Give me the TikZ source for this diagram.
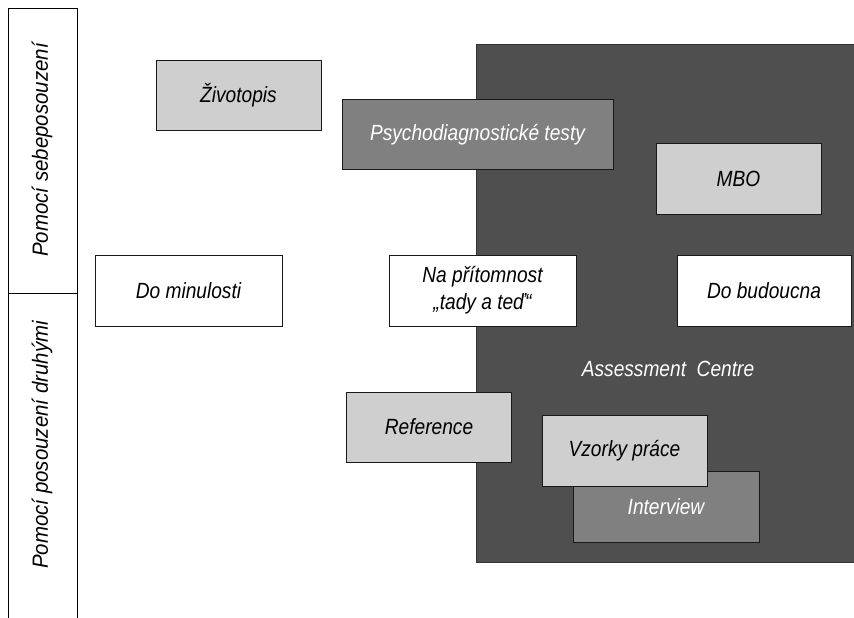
\documentclass[tikz,border=0pt]{standalone}
\usepackage{fontspec}
\setmainfont{Liberation Sans}
\newfontfamily\boxfont[FakeStretch=0.87]{Liberation Sans}
\newfontfamily\sidefont[FakeStretch=0.93]{Liberation Sans}
\definecolor{darkbg}{HTML}{4F4F4F}
\definecolor{midgray}{HTML}{808080}
\definecolor{lightgray}{HTML}{CFCFCF}
\begin{document}
\begin{tikzpicture}[x=1pt,y=-1pt,
  box/.style={draw=black!90, line width=0.9pt, rectangle, inner sep=0pt, font=\boxfont\fontsize{22}{28}\selectfont\itshape},
  lightbox/.style={box, fill=lightgray, text=black},
  midbox/.style={box, fill=midgray, text=white},
  whitebox/.style={box, fill=white, text=black},
  sidelabel/.style={rotate=90, font=\sidefont\fontsize{22}{28}\selectfont\itshape}
]
\useasboundingbox (0,0) rectangle (854,618);
% dark area
\fill[darkbg, draw=black!80, line width=0.9pt] (476,44) rectangle (856,562);
% left column
\draw[line width=0.9pt] (8,620) -- (8,8) -- (77,8) -- (77,620);
\draw[line width=0.9pt] (8,293) -- (77,293);
\node[sidelabel] (s1) at (42,150) {Pomocí sebeposouzení};
\node[sidelabel] (s2) at (42,445) {Pomocí posouzení druhými};
% boxes
\node[lightbox, minimum width=165, minimum height=70] (ziv) at (238.5,95) {Životopis};
\node[midbox, minimum width=271, minimum height=70] (psy) at (477.5,134.5) {Psychodiagnostické testy};
\node[lightbox, minimum width=165, minimum height=71] (mbo) at (738.5,178.5) {MBO};
\node[whitebox, minimum width=187, minimum height=71] (min) at (188.5,290.5) {Do minulosti};
\node[whitebox, minimum width=187, minimum height=71, align=center] (pri) at (482.5,290.5) {Na přítomnost\\[-1pt]„tady a teď“};
\node[whitebox, minimum width=174, minimum height=71] (bud) at (764,290.5) {Do budoucna};
\node[font=\boxfont\fontsize{22}{28}\selectfont\itshape, text=white] (ac) at (668,369) {Assessment~ Centre};
\node[lightbox, minimum width=165, minimum height=70] (ref) at (429,427) {Reference};
\node[midbox, minimum width=186, minimum height=71] (int) at (666,506.5) {Interview};
\node[lightbox, minimum width=165, minimum height=71] (vzo) at (624.5,450.5) {Vzorky práce};
\end{tikzpicture}
\end{document}
